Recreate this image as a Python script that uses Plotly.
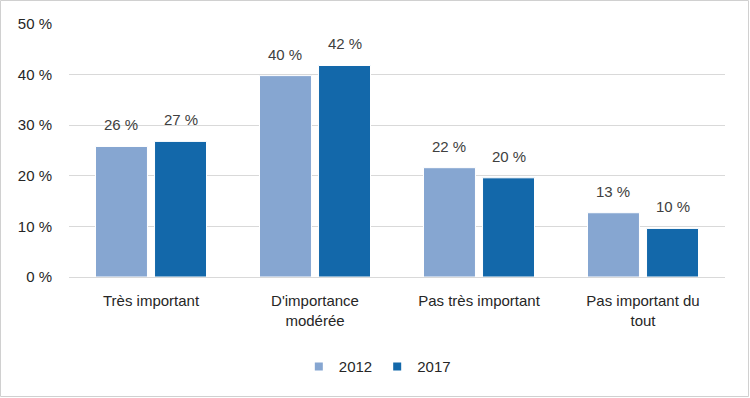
import plotly.graph_objects as go

categories = ["Très important", "D'importance<br>modérée", "Pas très important", "Pas important du<br>tout"]
series_names = ["2012", "2017"]
values_2012 = [25.8, 39.8, 21.6, 12.7]
values_2017 = [26.8, 41.8, 19.6, 9.6]
ytick_vals = [0, 10, 20, 30, 40, 50]
ytick_text = [f"{v} %" for v in ytick_vals]

colors = ["#86A6D1", "#1368AA"]
W, H = 750, 398
ml, mr, mt, mb = 69, 25, 24, 121
font_family = "Liberation Sans, Arial, sans-serif"

fig = go.Figure()
for name, vals, col in zip(series_names, [values_2012, values_2017], colors):
    fig.add_trace(go.Bar(
        x=categories, y=vals, name=name, showlegend=False,
        marker=dict(color=col, line=dict(color="white", width=1)),
    ))
    fig.add_trace(go.Scatter(
        x=[None], y=[None], mode="markers", name=name,
        marker=dict(symbol="square", size=8, color=col),
    ))

bargap = 0.28
plot_w = W - ml - mr
plot_h = H - mt - mb
slot = plot_w / len(categories) * (1 - bargap) / 2
annotations = []
for i, vals in enumerate([values_2012, values_2017]):
    shift = (i - 0.5) * slot
    for c, v in zip(categories, vals):
        annotations.append(dict(
            x=c, y=v, xref="x", yref="y", text=f"{round(v)} %",
            showarrow=False, yanchor="bottom", yshift=11, xshift=shift,
            font=dict(size=15, color="#404040", family=font_family),
        ))

fig.update_layout(
    width=W, height=H,
    margin=dict(l=ml, r=mr, t=mt, b=mb),
    paper_bgcolor="white", plot_bgcolor="white",
    barmode="group", bargap=bargap, bargroupgap=0.12,
    font=dict(family=font_family, size=15, color="#262626"),
    annotations=annotations,
    legend=dict(orientation="h", x=0.47, xanchor="center", y=-0.29, yanchor="top",
                font=dict(size=15, color="#262626"), itemwidth=30, traceorder="normal"),
    shapes=[dict(type="rect", xref="paper", yref="paper",
                 x0=-(ml - 0.5) / plot_w, x1=1 + (mr - 1.5) / plot_w,
                 y0=-(mb - 1.5) / plot_h, y1=1 + (mt - 0.5) / plot_h,
                 line=dict(color="#D0D0D0", width=1))],
)
fig.update_yaxes(range=[0, 50], tickvals=ytick_vals, ticktext=ytick_text,
                 showgrid=True, gridcolor="#D9D9D9", gridwidth=1, zeroline=False,
                 showline=False, ticks="", ticklabelstandoff=16, tickfont=dict(size=15),
                 automargin=False)
fig.update_xaxes(showline=True, linecolor="#D9D9D9", linewidth=1, ticks="",
                 ticklabelstandoff=10, tickfont=dict(size=15), automargin=False)

fig.write_html("out.html", config={"displayModeBar": False},
               post_script="document.body.style.margin='0';")
